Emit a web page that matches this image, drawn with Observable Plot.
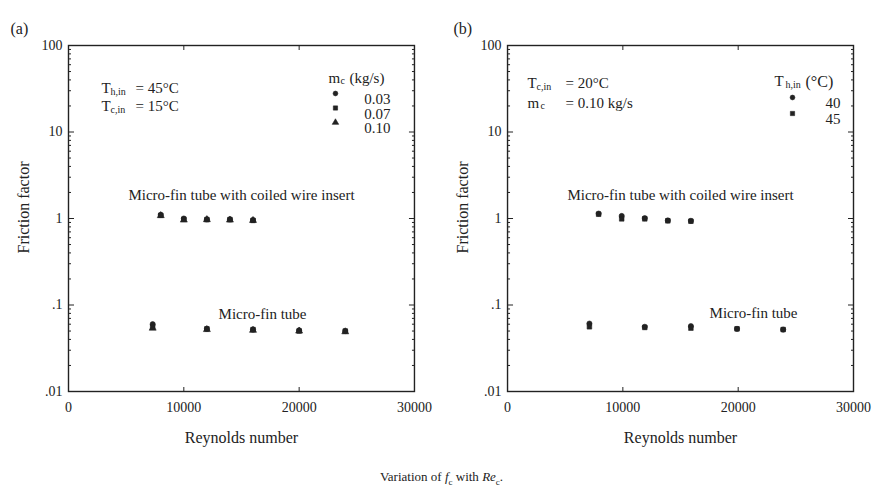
<!DOCTYPE html>
<html>
<head>
<meta charset="utf-8">
<script src="https://cdn.jsdelivr.net/npm/d3@7"></script>
<script src="https://cdn.jsdelivr.net/npm/@observablehq/plot@0.6"></script>
<style>
  html, body { margin: 0; padding: 0; background: #fff; }
  #wrap { width: 883px; height: 486px; overflow: hidden; font-family: "Liberation Serif", "DejaVu Serif", serif; color: #222; }
  #caption { text-align: center; font-size: 13px; line-height: 16px; margin-top: 14px; }
  svg { font-family: "Liberation Serif", "DejaVu Serif", serif; }
</style>
</head>
<body>
<div id="wrap">
  <div id="chart"></div>
  <div id="caption">Variation of <i>f</i><sub style="font-size:9px">c</sub> with <i>Re</i><sub style="font-size:9px">c</sub>.</div>
</div>
<script>
// ---- Data ----
const panels = ["a", "b"];
// Panel (a): T_h,in = 45°C, T_c,in = 15°C, series by m_c (kg/s)
const mcLevels = ["0.03", "0.07", "0.10"];
const aCoiledRe = [8000, 10000, 12000, 14000, 16000];
const aCoiled003 = [1.10, 1.00, 0.98, 0.98, 0.96];
const aCoiled007 = [1.09, 0.98, 0.97, 0.97, 0.95];
const aCoiled010 = [1.08, 0.96, 0.97, 0.96, 0.95];
const aPlainRe = [7300, 12000, 16000, 20000, 24000];
const aPlain003 = [0.060, 0.053, 0.052, 0.051, 0.050];
const aPlain007 = [0.056, 0.053, 0.052, 0.050, 0.050];
const aPlain010 = [0.054, 0.052, 0.051, 0.050, 0.049];

// Panel (b): T_c,in = 20°C, m_c = 0.10 kg/s, series by T_h,in (°C)
const thLevels = ["40", "45"];
const bCoiledRe = [7900, 9900, 11900, 13900, 15900];
const bCoiled40 = [1.14, 1.07, 1.01, 0.95, 0.94];
const bCoiled45 = [1.12, 0.99, 0.99, 0.94, 0.93];
const bPlainRe = [7100, 11900, 15900, 19900, 23900];
const bPlain40 = [0.061, 0.056, 0.057, 0.053, 0.052];
const bPlain45 = [0.056, 0.055, 0.054, 0.053, 0.052];

// Axis ticks
const xTicks = [0, 10000, 20000, 30000];
const xInnerTicks = [10000, 20000];
const yTicks = [0.01, 0.1, 1, 10, 100];
const yTickLabels = [".01", ".1", "1", "10", "100"];
const yMinor = [];
for (const d of [0.01, 0.1, 1, 10]) for (let k = 2; k <= 9; k++) yMinor.push(+(d * k).toPrecision(3));

// ---- Build table ----
function rows(p, re, vals, key) { return re.map((r, i) => ({ p, Re: r, f: vals[i], s: key })); }
const data = [
  ...rows("a", aCoiledRe, aCoiled003, "0.03"), ...rows("a", aCoiledRe, aCoiled007, "0.07"), ...rows("a", aCoiledRe, aCoiled010, "0.10"),
  ...rows("a", aPlainRe, aPlain003, "0.03"), ...rows("a", aPlainRe, aPlain007, "0.07"), ...rows("a", aPlainRe, aPlain010, "0.10"),
  ...rows("b", bCoiledRe, bCoiled40, "40"), ...rows("b", bCoiledRe, bCoiled45, "45"),
  ...rows("b", bPlainRe, bPlain40, "40"), ...rows("b", bPlainRe, bPlain45, "45")
];

const ink = "#222";
const yFmt = d => yTickLabels[yTicks.indexOf(d)];
const tickOnly = {fill: "none", label: null, stroke: ink};

// text shown in every panel
function txt(s, o) {
  return Plot.text([s], {text: d => d, fill: ink, fontSize: 15, textAnchor: "start", ...o});
}
// text in one panel
function ptxt(p, s, o) {
  return Plot.text([{p, t: s}], {fx: "p", text: "t", fill: ink, fontSize: 15, textAnchor: "start", ...o});
}
function pdot(p, s, o) {
  return Plot.dot([{p, s}], {fx: "p", symbol: "s", r: 2.4, fill: ink, stroke: ink, strokeWidth: 0.6, ...o});
}

const chart = Plot.plot({
  width: 883, height: 455,
  marginLeft: 68, marginRight: 30, marginTop: 45, marginBottom: 64,
  style: {background: "#fff", color: ink},
  fx: {domain: panels, paddingInner: 0.212, paddingOuter: 0, round: false, axis: null},
  x: {domain: [0, 30000]},
  y: {type: "log", domain: [0.01, 100]},
  symbol: {domain: [...mcLevels, ...thLevels], range: ["circle", "square", "triangle", "circle", "square"]},
  marks: [
    // axes and frame
    Plot.axisX({ticks: xTicks, tickSize: 0, tickPadding: 11, tickFormat: d => String(d), fontSize: 14, label: null, fill: ink}),
    Plot.axisX({ticks: xInnerTicks, anchor: "bottom", tickSize: -4, ...tickOnly}),
    Plot.axisX({ticks: xInnerTicks, anchor: "top", tickSize: -4, ...tickOnly}),
    Plot.axisY({ticks: yTicks, tickSize: 0, tickPadding: 6, tickFormat: yFmt, fontSize: 14, label: null, fill: ink, facetAnchor: "top"}),
    Plot.axisY({ticks: yTicks, anchor: "left", tickSize: -6, facetAnchor: "top", ...tickOnly}),
    Plot.axisY({ticks: yTicks, anchor: "right", tickSize: -6, facetAnchor: "top", ...tickOnly}),
    Plot.axisY({ticks: yMinor, anchor: "left", tickSize: -3, facetAnchor: "top", ...tickOnly}),
    Plot.axisY({ticks: yMinor, anchor: "right", tickSize: -3, facetAnchor: "top", ...tickOnly}),
    Plot.frame({stroke: ink, strokeWidth: 1.4}),

    // data
    Plot.dot(data, {fx: "p", x: "Re", y: "f", symbol: "s", r: 2.6, fill: ink, stroke: ink, strokeWidth: 0.6}),

    // shared labels
    txt("Friction factor", {frameAnchor: "left", dx: -45, dy: -11, rotate: -90, fontSize: 16, textAnchor: "middle"}),
    txt("Reynolds number", {frameAnchor: "bottom", dy: 51, fontSize: 16, textAnchor: "middle"}),
    txt("Micro-fin tube with coiled wire insert", {frameAnchor: "top-left", dx: 173, dy: 144, textAnchor: "middle"}),

    // panel (a)
    ptxt("a", "(a)", {frameAnchor: "top-left", dx: -58, dy: -23, fontSize: 16}),
    ptxt("a", "T", {frameAnchor: "top-left", dx: 33, dy: 37}),
    ptxt("a", "h,in", {frameAnchor: "top-left", dx: 42, dy: 42, fontSize: 10}),
    ptxt("a", "= 45°C", {frameAnchor: "top-left", dx: 67, dy: 37}),
    ptxt("a", "T", {frameAnchor: "top-left", dx: 33, dy: 55}),
    ptxt("a", "c,in", {frameAnchor: "top-left", dx: 42, dy: 60, fontSize: 10}),
    ptxt("a", "= 15°C", {frameAnchor: "top-left", dx: 67, dy: 55}),
    ptxt("a", "m", {frameAnchor: "top-right", dx: -86, dy: 27}),
    ptxt("a", "c", {frameAnchor: "top-right", dx: -74, dy: 31, fontSize: 10}),
    ptxt("a", "(kg/s)", {frameAnchor: "top-right", dx: -65, dy: 27}),
    ...mcLevels.map((m, i) => pdot("a", m, {frameAnchor: "top-right", dx: -79, dy: 48 + i * 14.5})),
    ...mcLevels.map((m, i) => ptxt("a", m, {frameAnchor: "top-right", dx: -24, dy: 48 + i * 14.5, textAnchor: "end"})),
    ptxt("a", "Micro-fin tube", {frameAnchor: "top-left", dx: 194, dy: 263, textAnchor: "middle"}),

    // panel (b)
    ptxt("b", "(b)", {frameAnchor: "top-left", dx: -54, dy: -23, fontSize: 16}),
    ptxt("b", "T", {frameAnchor: "top-left", dx: 20, dy: 32}),
    ptxt("b", "c,in", {frameAnchor: "top-left", dx: 29, dy: 37, fontSize: 10}),
    ptxt("b", "= 20°C", {frameAnchor: "top-left", dx: 58, dy: 32}),
    ptxt("b", "m", {frameAnchor: "top-left", dx: 20, dy: 52}),
    ptxt("b", "c", {frameAnchor: "top-left", dx: 33, dy: 56, fontSize: 10}),
    ptxt("b", "= 0.10 kg/s", {frameAnchor: "top-left", dx: 58, dy: 52}),
    ptxt("b", "T", {frameAnchor: "top-right", dx: -79, dy: 30}),
    ptxt("b", "h,in", {frameAnchor: "top-right", dx: -68, dy: 35, fontSize: 10}),
    ptxt("b", "(°C)", {frameAnchor: "top-right", dx: -48, dy: 30, fontSize: 16}),
    ...thLevels.map((t, i) => pdot("b", t, {frameAnchor: "top-right", dx: -61, dy: 52 + i * 16})),
    ...thLevels.map((t, i) => ptxt("b", t, {frameAnchor: "top-right", dx: -13, dy: 52 + i * 16, textAnchor: "end"})),
    ptxt("b", "Micro-fin tube", {frameAnchor: "top-left", dx: 246, dy: 262, textAnchor: "middle"})
  ]
});
document.getElementById("chart").appendChild(chart);
</script>
</body>
</html>
